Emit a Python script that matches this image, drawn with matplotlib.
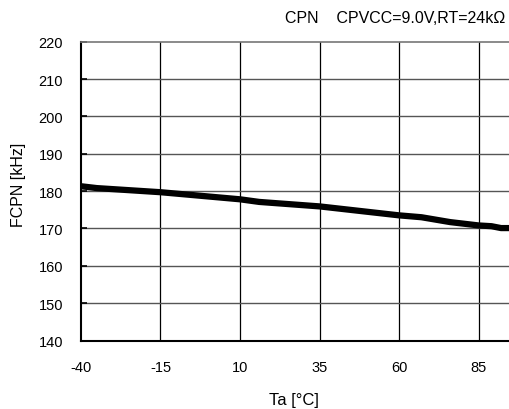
import matplotlib
matplotlib.use("Agg")
import matplotlib.pyplot as plt

plt.rcParams['font.family'] = ['Liberation Sans', 'DejaVu Sans']

# Data
ta = [-40, -37, -35, -15, 10, 16, 35, 60, 67, 76, 85, 89, 92, 94.5]
fcpn = [181.3, 181.0, 180.8, 179.7, 177.8, 177.1, 175.9, 173.5, 173.0, 171.7, 170.8, 170.6, 170.1, 170.1]

xticks = [-40, -15, 10, 35, 60, 85]
yticks = [140, 150, 160, 170, 180, 190, 200, 210, 220]

fig = plt.figure(figsize=(5.09, 4.10), dpi=100)
ax = fig.add_axes([0.159, 0.167, 0.841, 0.729])

ax.set_xlim(-40, 94.5)
ax.set_ylim(140, 220)
ax.set_xticks(xticks)
ax.set_yticks(yticks)
ax.set_xticklabels([str(t) for t in xticks])
ax.set_yticklabels([str(t) for t in yticks])

for x in xticks[1:]:
    ax.axvline(x, color='black', lw=0.9, zorder=1)
for y in yticks[1:-1]:
    ax.axhline(y, color='#555555', lw=1.0, zorder=1)

ax.plot(ta, fcpn, color='black', lw=4.5, solid_capstyle='butt', zorder=3)

ax.spines['right'].set_visible(False)
ax.spines['top'].set_color('#777777')
ax.spines['top'].set_linewidth(1.2)
ax.spines['left'].set_linewidth(1.5)
ax.spines['bottom'].set_linewidth(1.5)

ax.tick_params(axis='y', direction='in', length=4, width=1.2, pad=13, labelsize=10.5)
ax.tick_params(axis='x', length=0, pad=14, labelsize=10.5)

fig.text(0.578, 0.024, 'Ta [°C]', ha='center', va='center', fontsize=12)
fig.text(0.037, 0.549, 'FCPN [kHz]', ha='center', va='center', rotation=90, fontsize=11.5)
fig.text(0.993, 0.956, 'CPN    CPVCC=9.0V,RT=24kΩ', ha='right', va='center', fontsize=11.5)

fig.savefig('out.png', dpi=100)
